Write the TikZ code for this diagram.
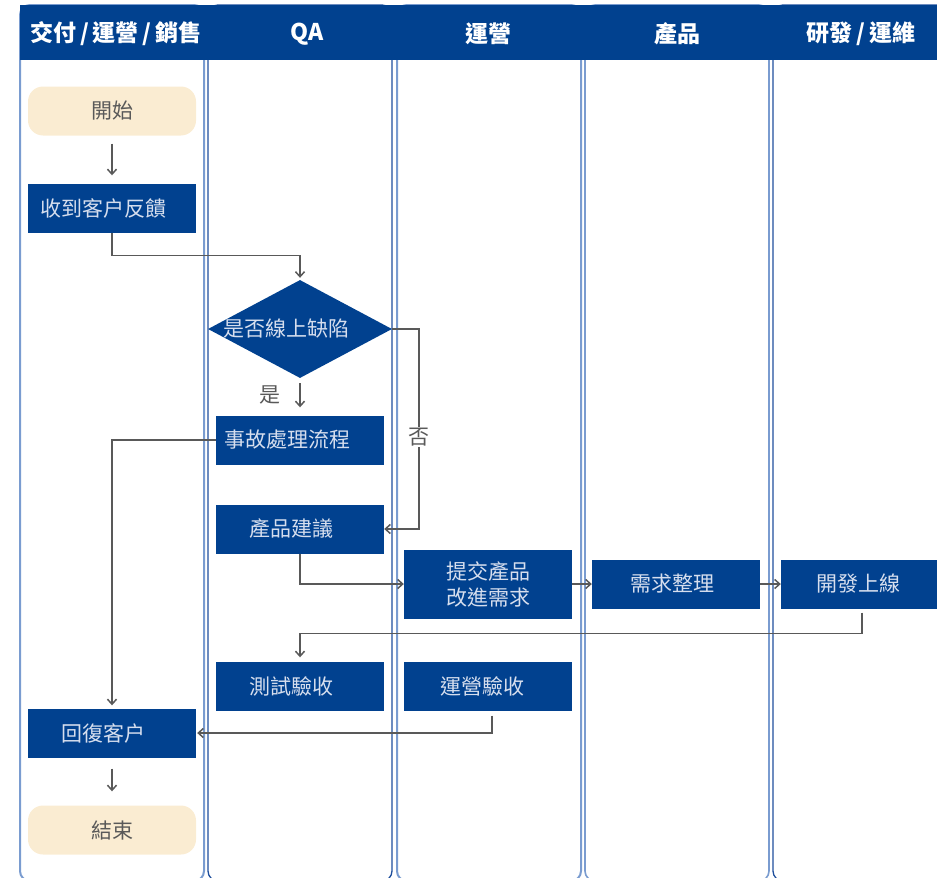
\documentclass[tikz,border=0pt]{standalone}
\usepackage{fontspec}
\setmainfont{Noto Sans CJK TC}
\usetikzlibrary{arrows.meta,shapes.geometric,positioning}
\definecolor{flowblue}{RGB}{1,65,143}
\definecolor{lanelight}{RGB}{122,156,208}
\definecolor{lanedark}{RGB}{30,78,156}
\definecolor{startbeige}{RGB}{250,236,210}
\definecolor{linegray}{RGB}{89,89,89}
\definecolor{boxtext}{RGB}{214,222,238}

\begin{document}
\begin{tikzpicture}[x=1pt,y=-1pt,
  box/.style={fill=flowblue,text=boxtext,minimum width=168pt,minimum height=49pt,inner sep=0pt,font=\fontsize{21}{26}\selectfont,align=center},
  leftish/.style={execute at end node={\hspace{#1}}},
  terminal/.style={box,fill=startbeige,text=linegray,rounded corners=15pt},
  flow/.style={draw=linegray,line width=1.5pt,-{Straight Barb[length=5pt,width=9pt]}},
  lanetitle/.style={text=white,font=\fontsize{23}{27}\selectfont\bfseries}]
\useasboundingbox (0,0) rectangle (937,878);
% the lanes
\begin{scope}
\clip (0,0) rectangle (937,878);
\foreach \x/\col/\w in {20/lanelight/2, 208/lanedark/1.3, 397/lanelight/2, 585/lanelight/1.6, 773/lanedark/1.3}
  \draw[\col,line width=\w pt,rounded corners=10pt] (\x,5) rectangle ++(184,876);
\end{scope}
% the header band and the lane titles
\fill[flowblue] (20,5) rectangle (937,60);
\foreach \x/\t [count=\i] in {116/{交付\,/\,運營\,/\,銷售}, 307/QA, 488/運營, 677/產品, 861/{研發\,/\,運維}}
  \node[lanetitle] (title\i) at (\x,34) {\t};
% the steps
\node[terminal] (start) at (112,111) {開始};
\node[box,leftish=18pt] (recv) at (112,208) {收到客户反饋};
\node[diamond,fill=flowblue,aspect=1.88,minimum width=184pt,minimum height=98pt,inner sep=0pt] (check) at (300,329) {};
\node[text=boxtext,font=\fontsize{21}{26}\selectfont,inner sep=0pt] (checktext) at (286,329) {是否線上缺陷};
\node[box,leftish=26pt] (incident) at (300,440) {事故處理流程};
\node[box,leftish=18pt] (advice) at (300,529) {產品建議};
\node[box,minimum height=69pt] (submit) at (488,584) {提交產品\\改進需求\hspace{10pt}};
\node[box,leftish=8pt] (sort) at (676,584) {需求整理};
\node[box,leftish=14pt] (release) at (865,584) {開發上線};
\node[box,leftish=18pt] (test) at (300,686) {測試驗收};
\node[box,leftish=12pt] (accept) at (488,686) {運營驗收};
\node[box,leftish=18pt] (reply) at (112,733) {回復客户};
\node[terminal] (finish) at (112,830) {結束};
% the connectors
\draw[flow,shorten <=8pt,shorten >=8pt] (start) -- (recv);
\draw[flow,shorten >=2pt] (recv.south) -- ++(0,23) -| (check.north);
\draw[flow,shorten <=5pt,shorten >=8pt] (check.south) -- node[pos=0.45,left=19pt,inner sep=0pt,text=linegray,font=\fontsize{21}{26}\selectfont]{是} (incident.north);
\draw[flow] (check.east) -- ++(27,0) |- node[pos=0.27,fill=white,inner sep=1pt,text=linegray,font=\fontsize{21}{26}\selectfont]{否} (advice.east);
\draw[flow,shorten >=3pt] (incident.west) -| (reply.north);
\draw[flow] (advice.south) |- (submit.west);
\draw[flow] (submit) -- (sort);
\draw[flow] (sort) -- (release);
\draw[flow,shorten <=4pt,shorten >=4pt] ([xshift=-3pt]release.south) -- ++(0,25) -| (test.north);
\draw[flow,shorten <=5pt,shorten >=1pt] ([xshift=4pt]accept.south) |- (reply.east);
\draw[flow,shorten <=11pt,shorten >=14pt] (reply) -- (finish);
\end{tikzpicture}
\end{document}
